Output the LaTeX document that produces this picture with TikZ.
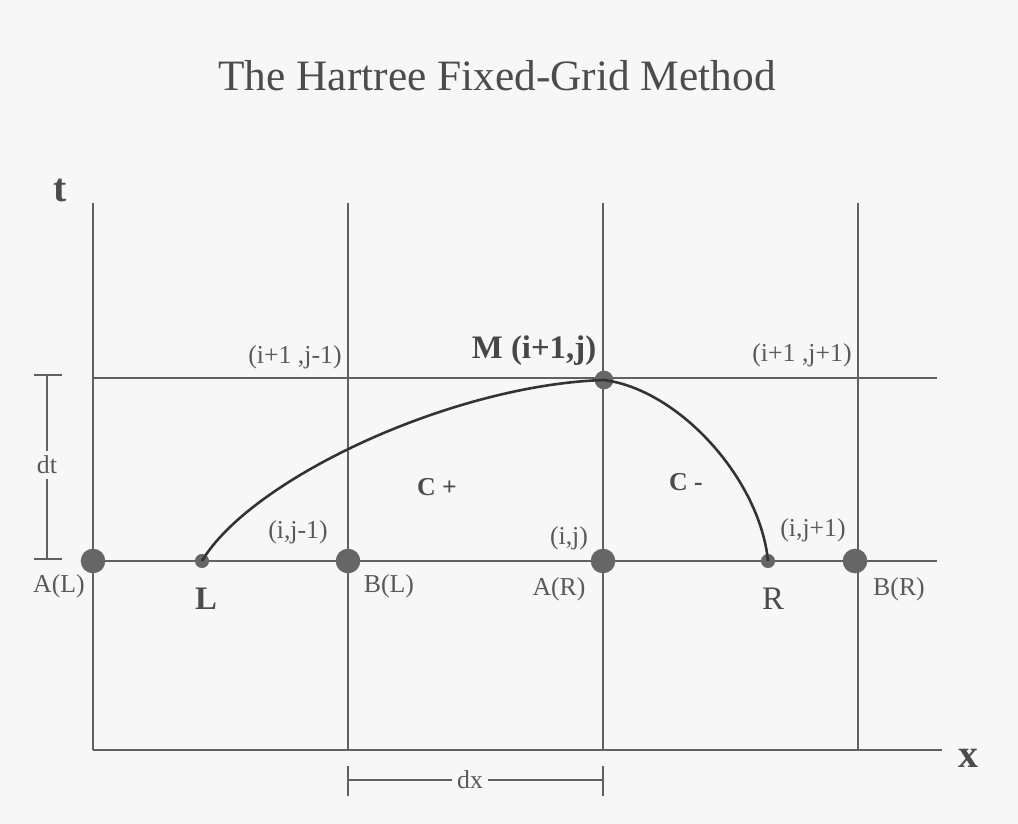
\documentclass[tikz,border=0pt]{standalone}
\usepackage{fontspec}
\setmainfont{Liberation Serif}
\begin{document}
\begin{tikzpicture}[x=0.03cm,y=-0.03cm,
  gridline/.style={draw=black!62,line width=1.1pt},
  curveline/.style={draw=black!80,line width=2.2pt},
  bigpt/.style={circle,fill=black!60,inner sep=0pt,minimum size=21pt},
  smallpt/.style={circle,fill=black!60,inner sep=0pt,minimum size=12pt},
  lbl/.style={text=black!65,font=\fontsize{22}{24}\selectfont,inner sep=1pt},
  clbl/.style={text=black!70,font=\fontsize{22}{24}\selectfont\bfseries,inner sep=1pt},
  axlbl/.style={text=black!70,font=\fontsize{34}{36}\selectfont\bfseries,inner sep=1pt},
  ptlbl/.style={text=black!70,font=\fontsize{28}{30}\selectfont,inner sep=1pt},
  dimline/.style={draw=black!62,line width=1.1pt}]
\fill[black!3] (0,0) rectangle (1018,824);
\useasboundingbox (0,0) rectangle (1018,824);
% title
\node[text=black!70,font=\fontsize{37}{40}\selectfont] (title) at (497,76) {The Hartree Fixed-Grid Method};
% grid corners
\coordinate (v1t) at (93,203);
\coordinate (v2t) at (348,203);
\coordinate (v3t) at (603,203);
\coordinate (v4t) at (858,203);
\coordinate (v1b) at (93,750);
\coordinate (v2b) at (348,750);
\coordinate (v3b) at (603,750);
\coordinate (v4b) at (858,750);
\coordinate (h1l) at (93,378);
\coordinate (h1r) at (937,378);
\coordinate (h2l) at (93,561);
\coordinate (h2r) at (937,561);
\coordinate (axr) at (942,750);
\draw[gridline] (v1t) -- (v1b);
\draw[gridline] (v2t) -- (v2b);
\draw[gridline] (v3t) -- (v3b);
\draw[gridline] (v4t) -- (v4b);
\draw[gridline] (h1l) -- (h1r);
\draw[gridline] (h2l) -- (h2r);
\draw[gridline] (v1b) -- (axr);
% axis labels
\node[axlbl] (tlab) at (60,190) {t};
\node[axlbl] (xlab) at (968,758) {x};
% points
\node[bigpt] (AL) at (93,561) {};
\node[smallpt] (L) at (202,561) {};
\node[bigpt] (BL) at (348,561) {};
\node[bigpt] (AR) at (603,561) {};
\node[smallpt] (R) at (768,561) {};
\node[bigpt] (BR) at (855,561) {};
\node[circle,fill=black!60,inner sep=0pt,minimum size=16pt] (M) at (604,380) {};
% curves
\draw[curveline] (L.center) .. controls (250,480) and (450,385) .. (M.center);
\draw[curveline] (M.center) .. controls (680,390) and (760,480) .. (R.center);
% labels
\node[lbl] (lAL) at (59,586) {A(L)};
\node[ptlbl,font=\fontsize{28}{30}\selectfont\bfseries] (lL) at (206,599) {L};
\node[lbl] (lBL) at (389,586) {B(L)};
\node[lbl] (lAR) at (559,589) {A(R)};
\node[ptlbl] (lR) at (773,599) {R};
\node[lbl] (lBR) at (899,589) {B(R)};
\node[lbl] (lij1) at (298,532) {(i,j-1)};
\node[lbl] (lij) at (569,538) {(i,j)};
\node[lbl] (lijp) at (813,530) {(i,j+1)};
\node[lbl] (li1j1) at (295,357) {(i+1 ,j-1)};
\node[lbl] (li1jp) at (802,355) {(i+1 ,j+1)};
\node[text=black!72,font=\fontsize{28}{30}\selectfont\bfseries,inner sep=1pt] (lM) at (534,351) {M (i+1,j)};
\node[clbl] (lCp) at (437,487) {C +};
\node[clbl] (lCm) at (686,482) {C -};
% dt dimension
\coordinate (dtt) at (47,375);
\coordinate (dtb) at (47,559);
\coordinate (dttl) at (34,375);
\coordinate (dttr) at (62,375);
\coordinate (dtbl) at (34,559);
\coordinate (dtbr) at (62,559);
\node[lbl,inner sep=4pt] (dt) at (47,465) {dt};
\draw[dimline] (dttl) -- (dttr);
\draw[dimline] (dtbl) -- (dtbr);
\draw[dimline] (dtt) -- (dt);
\draw[dimline] (dt) -- (dtb);
% dx dimension
\coordinate (dxl) at (348,780);
\coordinate (dxr) at (603,780);
\coordinate (dxlt) at (348,766);
\coordinate (dxlb) at (348,796);
\coordinate (dxrt) at (603,766);
\coordinate (dxrb) at (603,796);
\node[lbl,inner sep=4pt] (dx) at (470,780) {dx};
\draw[dimline] (dxlt) -- (dxlb);
\draw[dimline] (dxrt) -- (dxrb);
\draw[dimline] (dxl) -- (dx);
\draw[dimline] (dx) -- (dxr);
\end{tikzpicture}
\end{document}
